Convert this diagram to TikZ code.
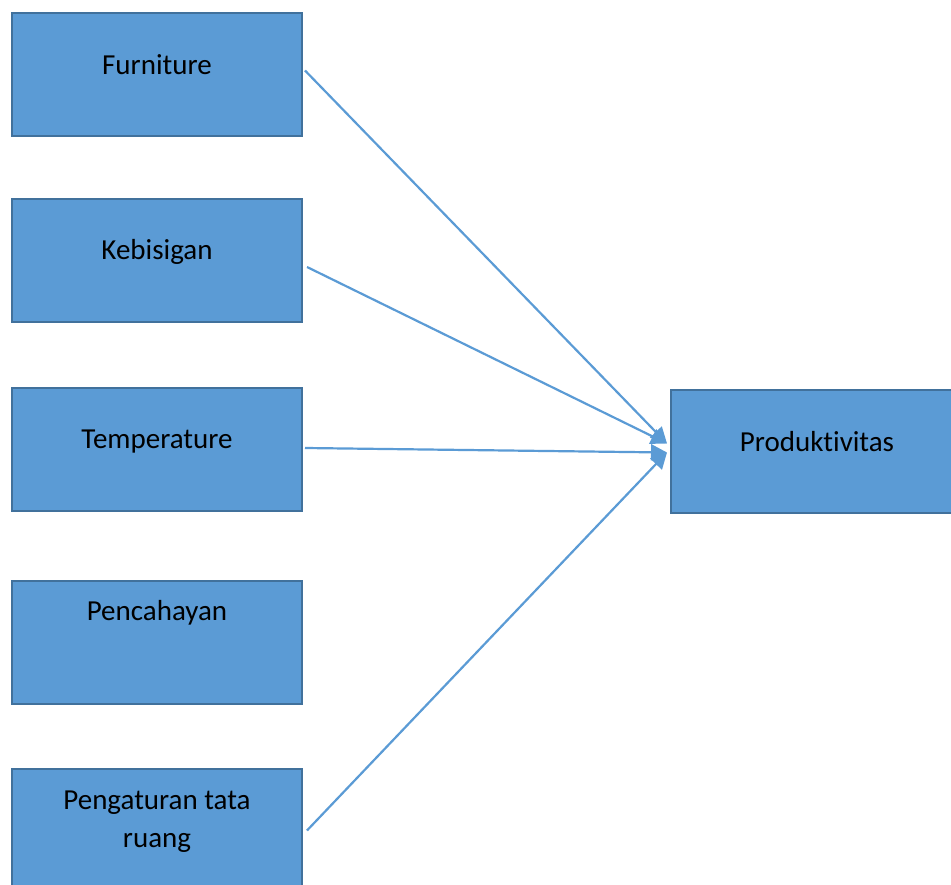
\documentclass[tikz,border=0pt]{standalone}
\usepackage{fontspec}
\setmainfont{Carlito}[Ligatures={NoCommon}]
\usetikzlibrary{arrows.meta}
\definecolor{boxfill}{HTML}{5B9BD5}
\definecolor{boxline}{HTML}{41719C}
\tikzset{
  varbox/.style={draw=boxline, fill=boxfill, line width=2pt, minimum width=290pt, minimum height=123pt, inner sep=0pt, outer sep=0pt},
  lbl/.style={anchor=base, inner sep=0pt, font=\fontsize{29}{38}\selectfont, align=center},
  conn/.style={draw=boxfill, line width=2.2pt, -{Triangle[length=16pt,width=16pt]}}
}
\begin{document}
\begin{tikzpicture}[x=1pt,y=-1pt]
\useasboundingbox (0,0) rectangle (951,885);
\node[varbox] (furn) at (157,74.5) {};
\node[varbox] (kebi) at (157,260.5) {};
\node[varbox] (temp) at (157,449.5) {};
\node[varbox] (penc) at (157,642.5) {};
\node[varbox] (peng) at (157,830.5) {};
\node[varbox, minimum width=290pt] (prod) at (816,451.5) {};
\node[lbl] (tfurn) at (157,75) {Furniture};
\node[lbl] (tkebi) at (157,260) {Kebisigan};
\node[lbl] (ttemp) at (157,448) {Temperature};
\node[lbl] (tpenc) at (157,620) {Pencahayan};
\node[lbl, anchor=north] (tpeng) at (157,791) {Pengaturan tata\\ruang};
\node[lbl] (tprod) at (817,451) {Produktivitas};
\coordinate (tipA) at ([xshift=-4pt,yshift=8pt]prod.west);
\coordinate (tipB) at ([xshift=-4pt,yshift=-1pt]prod.west);
\draw[conn] ([xshift=3pt,yshift=4pt]furn.east) -- (tipA);
\draw[conn] ([xshift=5pt,yshift=-6.5pt]kebi.east) -- (tipA);
\draw[conn] ([xshift=3pt,yshift=1.5pt]temp.east) -- (tipB);
\draw[conn] ([xshift=5pt,yshift=0pt]peng.east) -- (tipB);
\end{tikzpicture}
\end{document}
